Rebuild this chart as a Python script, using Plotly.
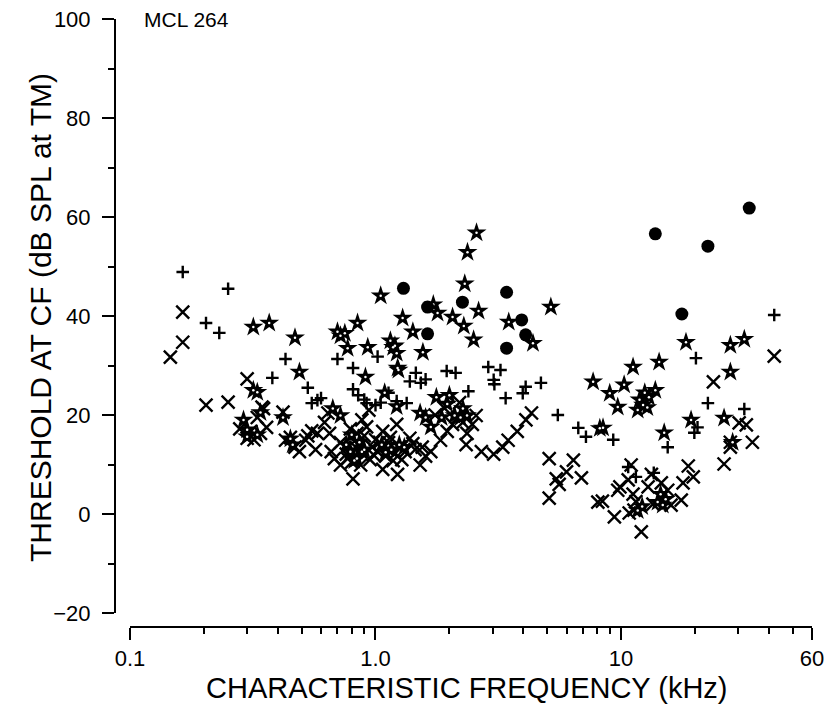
import plotly.graph_objects as go

# ---- data (CF in kHz, threshold in dB SPL) ----
cross_f = [0.146, 0.164, 0.164, 0.204, 0.251, 0.30, 0.345, 0.28, 0.31, 0.32, 0.30, 0.34, 0.35, 0.33, 0.36,
           0.42, 0.43, 0.47, 0.49, 0.52, 0.53, 0.57, 0.58, 0.62, 0.64, 0.66, 0.68, 0.72, 0.65, 0.45, 0.55,
           0.77, 0.81, 0.79, 0.84, 0.92, 0.90, 0.97, 0.87, 0.76, 0.72, 0.83, 0.95, 0.88, 0.94,
           1.02, 1.07, 1.10, 1.13, 1.18, 1.23, 1.26, 1.32, 1.38, 1.45, 1.52, 1.60, 1.07, 1.22, 1.04, 1.15, 1.28, 1.42, 1.55,
           1.68, 1.84, 1.96, 2.06, 2.16, 2.27, 2.36, 2.48, 2.57, 2.34, 2.70, 3.03, 3.30, 3.47, 3.78, 4.10, 4.32, 1.90, 2.20, 1.75,
           5.1, 5.1, 5.45, 5.6, 6.0, 6.4, 6.9, 8.05, 8.4, 9.4, 9.7, 10.7, 9.9,
           11.3, 10.8, 12.1, 12.9, 14.6, 15.5, 16.0, 11.0, 11.2, 11.5, 13.5, 17.6, 17.9, 18.8, 19.7, 13.3,
           23.8, 30.3, 32.4, 34.3, 27.9, 26.3, 42.1, 27.9,
           0.85, 0.98, 1.12, 0.80, 1.00, 1.20]
cross_db = [31.7, 40.8, 34.7, 22.0, 22.6, 27.3, 21.6, 17.2, 16.7, 15.0, 15.3, 16.3, 21.3, 19.5, 17.5,
            20.6, 14.9, 13.5, 12.6, 14.9, 15.8, 13.0, 16.3, 18.5, 20.4, 12.6, 11.2, 9.9, 16.3, 15.5, 16.8,
            11.2, 7.1, 17.2, 16.3, 17.6, 15.8, 13.5, 9.9, 12.1, 14.4, 13.5, 11.0, 19.0, 21.0,
            12.6, 9.0, 11.7, 14.4, 10.8, 8.0, 13.5, 12.6, 15.3, 13.0, 9.9, 11.7, 16.7, 18.1, 14.5, 15.5, 11.0, 14.2, 13.5,
            12.6, 14.9, 16.7, 18.1, 19.5, 18.5, 16.3, 18.1, 19.9, 14.0, 12.6, 12.1, 13.5, 14.9, 16.7, 19.0, 20.4, 21.5, 22.5, 20.0,
            11.2, 3.2, 7.1, 6.0, 8.5, 10.9, 7.3, 2.4, 2.6, -0.6, 4.8, 6.9, 5.5,
            0.8, 0.2, -3.6, 5.5, 6.3, 4.8, 1.8, 9.9, 4.0, 2.5, 2.0, 2.8, 6.3, 9.7, 7.5, 8.0,
            26.7, 18.4, 18.0, 14.5, 14.5, 10.1, 31.9, 13.5,
            14.0, 12.0, 13.0, 10.5, 15.0, 12.2]

plus_f = [0.164, 0.204, 0.231, 0.251, 0.38, 0.43, 0.53, 0.55, 0.60, 0.58, 0.70, 0.81, 0.81, 0.90, 0.92,
          1.02, 1.13, 1.22, 1.34, 1.46, 1.53, 1.38, 1.05, 1.00, 0.85, 1.60,
          1.95, 2.12, 2.88, 3.23, 3.03, 3.05, 2.39, 3.39, 3.98, 4.09, 4.72, 5.53,
          6.7, 7.2, 9.3, 10.7, 13.6, 15.5, 19.9, 20.2, 22.6, 31.8, 42.1, 20.5, 11.5]
plus_db = [48.9, 38.6, 36.6, 45.5, 27.5, 31.3, 25.5, 22.4, 23.4, 23.0, 31.3, 29.5, 25.2, 23.1, 22.4,
           31.8, 24.5, 22.8, 22.4, 28.5, 26.5, 26.8, 22.5, 22.0, 24.0, 27.2,
           28.9, 28.5, 29.7, 29.1, 27.1, 26.2, 24.8, 23.4, 24.4, 25.7, 26.5, 20.0,
           17.4, 15.6, 15.0, 9.5, 8.3, 13.5, 16.4, 31.5, 22.4, 21.2, 40.2, 17.5, 7.5]

star_f = [0.318, 0.369, 0.318, 0.33, 0.29, 0.30, 0.30, 0.33, 0.34,
          0.47, 0.49, 0.42, 0.46, 0.45,
          0.70, 0.75, 0.72, 0.845, 0.77, 0.93, 0.91,
          0.67, 0.72, 0.76, 0.79, 0.84, 0.88, 0.82, 0.86, 0.80,
          1.05, 1.29, 1.18, 1.24, 1.15, 1.20, 1.22, 1.42, 1.56, 1.23,
          1.09, 1.22, 1.06, 1.16, 1.31, 1.52, 1.60, 1.68, 1.77, 1.86,
          1.72, 1.79, 2.06, 2.29, 2.63, 2.51, 2.58, 2.37, 2.31,
          3.49, 4.38, 5.18,
          1.96, 2.10, 2.22, 2.36, 2.27, 2.00,
          7.7, 8.45, 8.2, 9.0, 9.7, 10.3, 11.2, 12.5, 11.9, 13.0, 13.8, 14.3, 11.7, 12.3, 12.8, 15.0,
          14.1, 14.8, 15.2, 11.7, 12.2, 14.5,
          18.4, 19.3, 26.3, 27.9, 27.9, 31.8, 28.5,
          0.90, 1.10, 1.25]
star_db = [37.8, 38.6, 25.0, 24.6, 19.0, 17.0, 15.6, 16.0, 20.5,
           35.6, 28.7, 19.5, 14.0, 15.2,
           36.8, 36.5, 36.0, 38.6, 33.5, 33.7, 27.7,
           21.3, 19.9, 14.0, 12.6, 11.2, 12.6, 10.8, 14.5, 16.0,
           44.1, 39.6, 33.7, 29.1, 35.0, 34.0, 32.5, 36.8, 32.7, 29.5,
           24.5, 21.7, 14.0, 13.0, 13.5, 20.4, 19.5, 17.6, 23.6, 19.5,
           42.3, 40.6, 39.8, 38.0, 41.0, 35.2, 56.8, 52.9, 46.5,
           38.8, 34.5, 41.8,
           22.2, 19.9, 19.5, 19.9, 21.3, 24.0,
           26.7, 17.4, 17.3, 24.4, 21.6, 26.1, 29.7, 24.5, 23.1, 23.6, 25.0, 30.7, 21.0, 22.0, 21.5, 16.4,
           2.4, 1.8, 3.0, 0.7, 1.5, 4.0,
           34.7, 19.0, 19.4, 34.1, 28.7, 35.3, 14.5,
           13.0, 12.5, 14.0]

circ_f = [1.30, 1.63, 1.63, 2.26, 3.42, 3.42, 3.94, 4.09, 13.8, 17.7, 22.6, 33.3]
circ_db = [45.6, 41.8, 36.4, 42.8, 44.8, 33.5, 39.2, 36.2, 56.6, 40.4, 54.1, 61.8]

x_major = [0.1, 1, 10, 60]
x_major_text = ["0.1", "1.0", "10", "60"]
x_minor = [0.2, 0.3, 0.4, 0.5, 0.6, 0.7, 0.8, 0.9, 2, 3, 4, 5, 6, 7, 8, 9, 20, 30, 40, 50]
y_major = [-20, 0, 20, 40, 60, 80, 100]

W, H = 831, 708
FONT = "Liberation Sans, Arial, Helvetica, sans-serif"

fig = go.Figure()
fig.add_trace(go.Scatter(x=cross_f, y=cross_db, mode="markers",
                         marker=dict(symbol="x-thin", size=13, line=dict(width=2.4, color="black"), color="black")))
fig.add_trace(go.Scatter(x=plus_f, y=plus_db, mode="markers",
                         marker=dict(symbol="cross-thin", size=9, line=dict(width=2.4, color="black"), color="black")))
fig.add_trace(go.Scatter(x=star_f, y=star_db, mode="markers",
                         marker=dict(symbol="star", size=15, color="black", line=dict(width=0))))
fig.add_trace(go.Scatter(x=star_f, y=star_db, mode="markers", hoverinfo="skip",
                         marker=dict(symbol="circle", size=2.5, color="white", line=dict(width=0))))
fig.add_trace(go.Scatter(x=circ_f, y=circ_db, mode="markers",
                         marker=dict(symbol="circle", size=13, color="black", line=dict(width=0))))

fig.update_layout(
    width=W, height=H, showlegend=False,
    margin=dict(l=0, r=0, t=0, b=0),
    paper_bgcolor="white", plot_bgcolor="white",
    font=dict(family=FONT, color="black"),
    xaxis=dict(type="log", range=[-1, 1.778151], domain=[130 / W, 812 / W],
               anchor="free", position=(H - 627) / H, automargin=False,
               showline=True, linewidth=2, linecolor="black", mirror=False,
               ticks="outside", ticklen=12, tickwidth=2, tickcolor="black",
               tickvals=x_major, ticktext=x_major_text, tickfont=dict(size=22),
               minor=dict(tickvals=x_minor, ticks="outside", ticklen=6, tickwidth=2, tickcolor="black"),
               showgrid=False, zeroline=False),
    yaxis=dict(range=[-20, 100], domain=[(H - 613) / H, (H - 19) / H],
               anchor="free", position=115 / W, automargin=False,
               showline=True, linewidth=2, linecolor="black",
               ticks="outside", ticklen=12, tickwidth=2, tickcolor="black",
               tickvals=y_major, tickfont=dict(size=22), ticklabelstandoff=7,
               minor=dict(dtick=10, ticks="outside", ticklen=6, tickwidth=2, tickcolor="black"),
               showgrid=False, zeroline=False),
    annotations=[
        dict(text="CHARACTERISTIC FREQUENCY (kHz)", xref="paper", yref="paper",
             x=467 / W, y=(H - 688) / H, showarrow=False, font=dict(size=29),
             xanchor="center", yanchor="middle"),
        dict(text="THRESHOLD AT CF (dB SPL at TM)", xref="paper", yref="paper",
             x=40 / W, y=(H - 318) / H, showarrow=False, font=dict(size=30), textangle=-90,
             xanchor="center", yanchor="middle"),
        dict(text="MCL 264", xref="paper", yref="paper", x=142 / W, y=(H - 20) / H,
             showarrow=False, font=dict(size=21), xanchor="left", yanchor="middle"),
    ],
)

fig.write_html("out.html")
